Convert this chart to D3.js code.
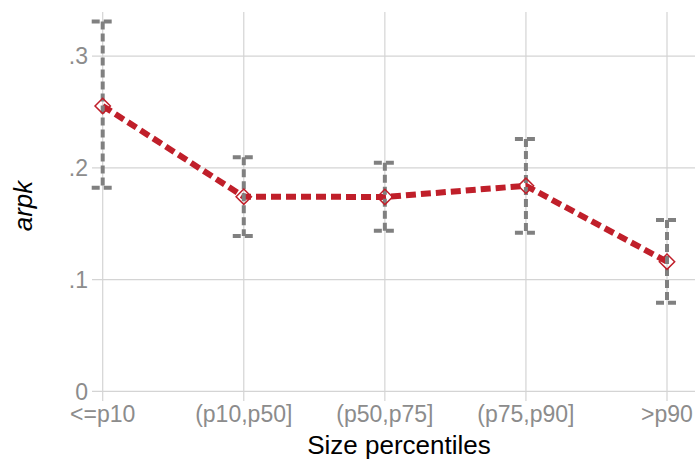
<!DOCTYPE html>
<html>
<head>
<meta charset="utf-8">
<script src="https://cdn.jsdelivr.net/npm/d3@7"></script>
<style>
  html, body { margin: 0; padding: 0; background: #fff; }
  svg { display: block; font-family: "Liberation Sans", Arial, sans-serif; }
</style>
</head>
<body>
<svg id="chart" width="695" height="463"></svg>
<script>
// Size groups and estimated arpk with confidence bounds
const categories = ["<=p10", "(p10,p50]", "(p50,p75]", "(p75,p90]", ">p90"];
const estimates  = [0.2555, 0.1742, 0.1740, 0.1840, 0.1160];
const upperCI    = [0.3310, 0.2095, 0.2047, 0.2259, 0.1534];
const lowerCI    = [0.1823, 0.1390, 0.1438, 0.1420, 0.0793];
const yTicks     = [0, 0.1, 0.2, 0.3];
const yTickLabels = ["0", ".1", ".2", ".3"];

const svg = d3.select("#chart");

const x = d3.scalePoint().domain(categories).range([102.7, 667]);
const y = d3.scaleLinear().domain([0, 0.3]).range([391.3, 56.2]);

const gridColor = "#d4d4d4";
const tickTextColor = "#8c8c8c";

// Horizontal grid lines (with the left tick stub)
svg.append("g").selectAll("line").data(yTicks).join("line")
  .attr("x1", 92).attr("x2", 695)
  .attr("y1", d => y(d)).attr("y2", d => y(d))
  .attr("stroke", gridColor).attr("stroke-width", 1.2);

// Vertical grid lines (with the bottom tick stub)
svg.append("g").selectAll("line").data(categories).join("line")
  .attr("x1", d => x(d)).attr("x2", d => x(d))
  .attr("y1", 12).attr("y2", 401)
  .attr("stroke", gridColor).attr("stroke-width", 1.2);

// Y tick labels
svg.append("g").selectAll("text").data(yTicks).join("text")
  .attr("x", 88).attr("y", d => y(d))
  .attr("dy", "0.36em")
  .attr("text-anchor", "end")
  .attr("font-size", 23)
  .attr("fill", tickTextColor)
  .text((d, i) => yTickLabels[i]);

// X tick labels
svg.append("g").selectAll("text").data(categories).join("text")
  .attr("x", d => x(d)).attr("y", 422)
  .attr("text-anchor", "middle")
  .attr("font-size", 23)
  .attr("fill", tickTextColor)
  .text(d => d);

// Axis titles
svg.append("text")
  .attr("x", 399).attr("y", 454)
  .attr("text-anchor", "middle")
  .attr("font-size", 26)
  .attr("fill", "#000")
  .text("Size percentiles");

svg.append("text")
  .attr("transform", "translate(32,206) rotate(-90)")
  .attr("text-anchor", "middle")
  .attr("font-size", 26)
  .attr("font-style", "italic")
  .attr("fill", "#000")
  .text("arpk");

const rows = categories.map((c, i) => ({ c, est: estimates[i], hi: upperCI[i], lo: lowerCI[i] }));

// Estimate line
const line = d3.line().x(d => x(d.c)).y(d => y(d.est));
svg.append("path")
  .datum(rows)
  .attr("d", line)
  .attr("fill", "none")
  .attr("stroke", "#c01f2a")
  .attr("stroke-width", 6)
  .attr("stroke-dasharray", "10,5");

// Confidence intervals
const ci = svg.append("g")
  .attr("stroke", "#808080")
  .attr("stroke-width", 4)
  .attr("fill", "none");
const capHalf = 11;
ci.selectAll(".stem").data(rows).join("line")
  .attr("class", "stem")
  .attr("x1", d => x(d.c)).attr("x2", d => x(d.c))
  .attr("y1", d => y(d.hi)).attr("y2", d => y(d.lo))
  .attr("stroke-dasharray", "8,4");
ci.selectAll(".capHi").data(rows).join("line")
  .attr("class", "capHi")
  .attr("x1", d => x(d.c) - capHalf).attr("x2", d => x(d.c) + capHalf)
  .attr("y1", d => y(d.hi)).attr("y2", d => y(d.hi))
  .attr("stroke-dasharray", "8,4");
ci.selectAll(".capLo").data(rows).join("line")
  .attr("class", "capLo")
  .attr("x1", d => x(d.c) - capHalf).attr("x2", d => x(d.c) + capHalf)
  .attr("y1", d => y(d.lo)).attr("y2", d => y(d.lo))
  .attr("stroke-dasharray", "8,4");

// Hollow diamond markers
const diamond = d3.symbol().type(d3.symbolDiamond2).size(150);
svg.append("g").selectAll("path").data(rows).join("path")
  .attr("transform", d => `translate(${x(d.c)},${y(d.est)})`)
  .attr("d", diamond)
  .attr("fill", "none")
  .attr("stroke", "#c01f2a")
  .attr("stroke-width", 1.5);
</script>
</body>
</html>
